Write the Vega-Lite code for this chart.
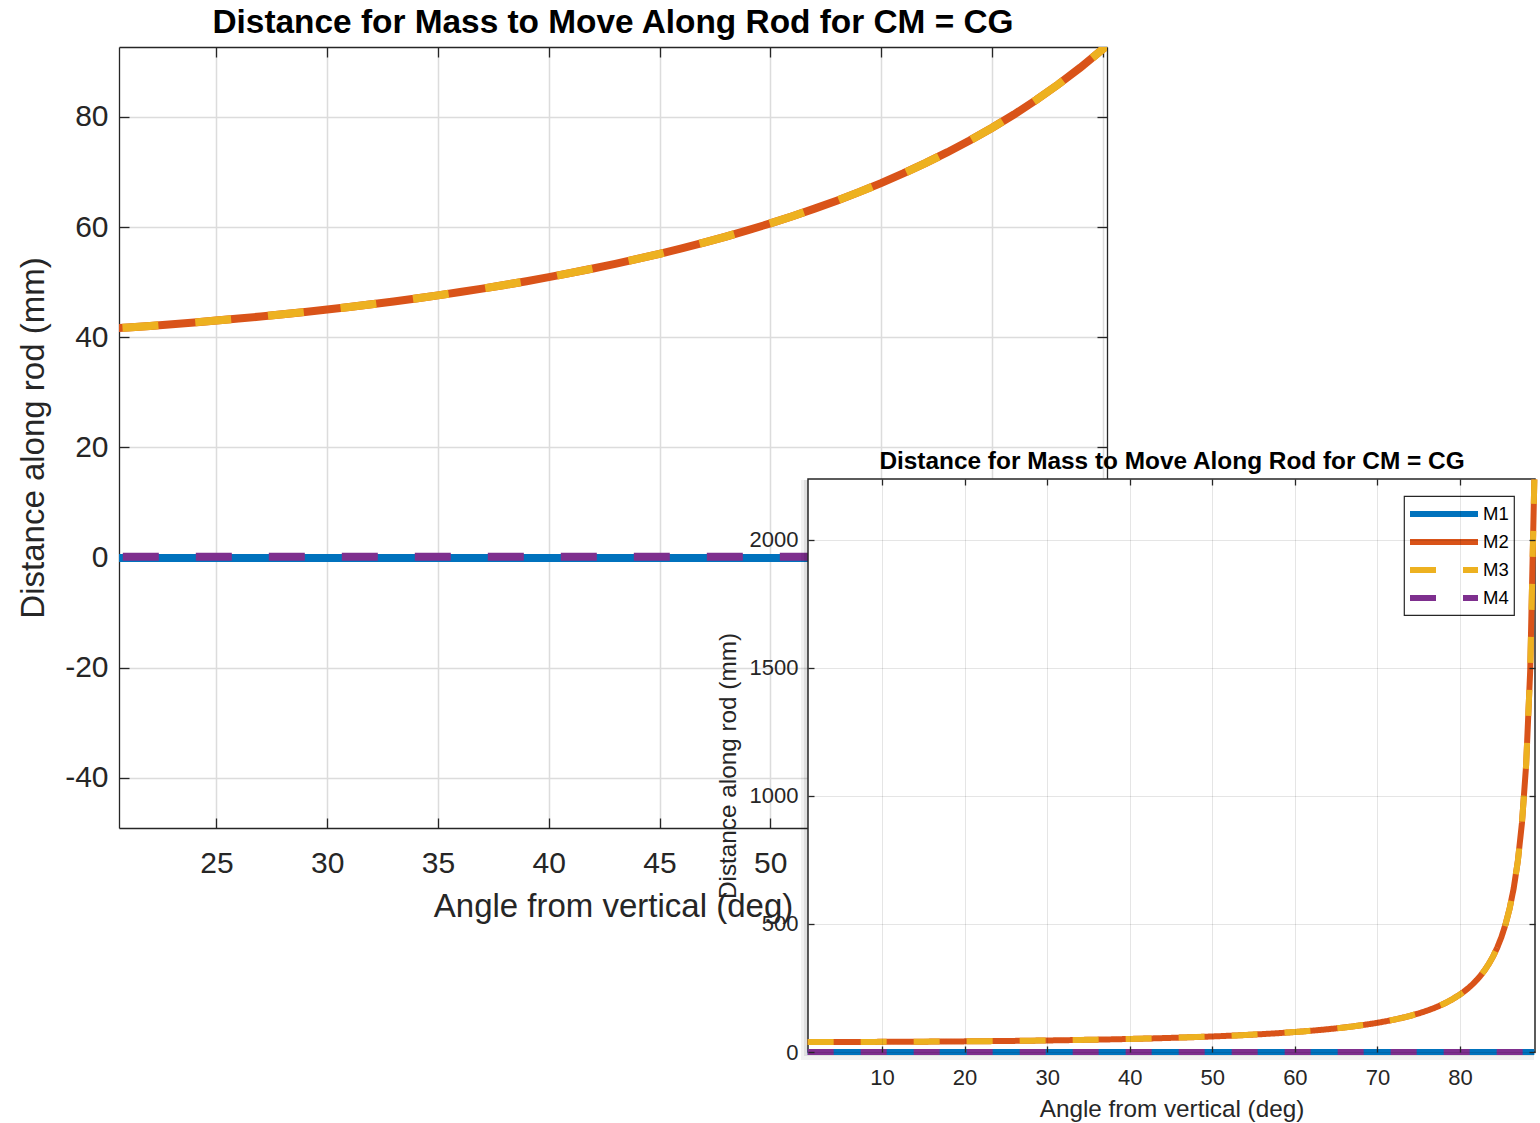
{
  "$schema": "https://vega.github.io/schema/vega-lite/v6.json",
  "width": 988,
  "height": 781,
  "autosize": "none",
  "padding": {"left": 119, "top": 47, "right": 433, "bottom": 295},
  "background": "white",
  "title": {"text": "Distance for Mass to Move Along Rod for CM = CG", "fontSize": 33.4, "fontWeight": "bold", "color": "#000000", "frame": "group", "anchor": "middle", "offset": 6, "font": "Liberation Sans"},
  "datasets": {
    "curves": [
      {"a":1,"M1":-0.1,"M2":39.01,"M3":39.01,"M4":0.15},
      {"a":2,"M1":-0.1,"M2":39.02,"M3":39.02,"M4":0.15},
      {"a":3,"M1":-0.1,"M2":39.05,"M3":39.05,"M4":0.15},
      {"a":4,"M1":-0.1,"M2":39.10,"M3":39.10,"M4":0.15},
      {"a":5,"M1":-0.1,"M2":39.15,"M3":39.15,"M4":0.15},
      {"a":6,"M1":-0.1,"M2":39.22,"M3":39.22,"M4":0.15},
      {"a":7,"M1":-0.1,"M2":39.29,"M3":39.29,"M4":0.15},
      {"a":8,"M1":-0.1,"M2":39.38,"M3":39.38,"M4":0.15},
      {"a":9,"M1":-0.1,"M2":39.49,"M3":39.49,"M4":0.15},
      {"a":10,"M1":-0.1,"M2":39.60,"M3":39.60,"M4":0.15},
      {"a":11,"M1":-0.1,"M2":39.73,"M3":39.73,"M4":0.15},
      {"a":12,"M1":-0.1,"M2":39.87,"M3":39.87,"M4":0.15},
      {"a":13,"M1":-0.1,"M2":40.03,"M3":40.03,"M4":0.15},
      {"a":14,"M1":-0.1,"M2":40.19,"M3":40.19,"M4":0.15},
      {"a":15,"M1":-0.1,"M2":40.38,"M3":40.38,"M4":0.15},
      {"a":16,"M1":-0.1,"M2":40.57,"M3":40.57,"M4":0.15},
      {"a":17,"M1":-0.1,"M2":40.78,"M3":40.78,"M4":0.15},
      {"a":18,"M1":-0.1,"M2":41.01,"M3":41.01,"M4":0.15},
      {"a":19,"M1":-0.1,"M2":41.25,"M3":41.25,"M4":0.15},
      {"a":20,"M1":-0.1,"M2":41.50,"M3":41.50,"M4":0.15},
      {"a":21,"M1":-0.1,"M2":41.78,"M3":41.78,"M4":0.15},
      {"a":22,"M1":-0.1,"M2":42.06,"M3":42.06,"M4":0.15},
      {"a":23,"M1":-0.1,"M2":42.37,"M3":42.37,"M4":0.15},
      {"a":24,"M1":-0.1,"M2":42.69,"M3":42.69,"M4":0.15},
      {"a":25,"M1":-0.1,"M2":43.03,"M3":43.03,"M4":0.15},
      {"a":26,"M1":-0.1,"M2":43.39,"M3":43.39,"M4":0.15},
      {"a":27,"M1":-0.1,"M2":43.77,"M3":43.77,"M4":0.15},
      {"a":28,"M1":-0.1,"M2":44.17,"M3":44.17,"M4":0.15},
      {"a":29,"M1":-0.1,"M2":44.59,"M3":44.59,"M4":0.15},
      {"a":30,"M1":-0.1,"M2":45.03,"M3":45.03,"M4":0.15},
      {"a":31,"M1":-0.1,"M2":45.50,"M3":45.50,"M4":0.15},
      {"a":32,"M1":-0.1,"M2":45.99,"M3":45.99,"M4":0.15},
      {"a":33,"M1":-0.1,"M2":46.50,"M3":46.50,"M4":0.15},
      {"a":34,"M1":-0.1,"M2":47.04,"M3":47.04,"M4":0.15},
      {"a":35,"M1":-0.1,"M2":47.61,"M3":47.61,"M4":0.15},
      {"a":36,"M1":-0.1,"M2":48.21,"M3":48.21,"M4":0.15},
      {"a":37,"M1":-0.1,"M2":48.83,"M3":48.83,"M4":0.15},
      {"a":38,"M1":-0.1,"M2":49.49,"M3":49.49,"M4":0.15},
      {"a":39,"M1":-0.1,"M2":50.18,"M3":50.18,"M4":0.15},
      {"a":40,"M1":-0.1,"M2":50.91,"M3":50.91,"M4":0.15},
      {"a":41,"M1":-0.1,"M2":51.68,"M3":51.68,"M4":0.15},
      {"a":42,"M1":-0.1,"M2":52.48,"M3":52.48,"M4":0.15},
      {"a":43,"M1":-0.1,"M2":53.33,"M3":53.33,"M4":0.15},
      {"a":44,"M1":-0.1,"M2":54.22,"M3":54.22,"M4":0.15},
      {"a":45,"M1":-0.1,"M2":55.15,"M3":55.15,"M4":0.15},
      {"a":46,"M1":-0.1,"M2":56.14,"M3":56.14,"M4":0.15},
      {"a":47,"M1":-0.1,"M2":57.19,"M3":57.19,"M4":0.15},
      {"a":48,"M1":-0.1,"M2":58.29,"M3":58.29,"M4":0.15},
      {"a":49,"M1":-0.1,"M2":59.45,"M3":59.45,"M4":0.15},
      {"a":50,"M1":-0.1,"M2":60.67,"M3":60.67,"M4":0.15},
      {"a":51,"M1":-0.1,"M2":61.97,"M3":61.97,"M4":0.15},
      {"a":52,"M1":-0.1,"M2":63.35,"M3":63.35,"M4":0.15},
      {"a":53,"M1":-0.1,"M2":64.80,"M3":64.80,"M4":0.15},
      {"a":54,"M1":-0.1,"M2":66.35,"M3":66.35,"M4":0.15},
      {"a":55,"M1":-0.1,"M2":67.99,"M3":67.99,"M4":0.15},
      {"a":56,"M1":-0.1,"M2":69.74,"M3":69.74,"M4":0.15},
      {"a":57,"M1":-0.1,"M2":71.61,"M3":71.61,"M4":0.15},
      {"a":58,"M1":-0.1,"M2":73.60,"M3":73.60,"M4":0.15},
      {"a":59,"M1":-0.1,"M2":75.72,"M3":75.72,"M4":0.15},
      {"a":60,"M1":-0.1,"M2":78.00,"M3":78.00,"M4":0.15},
      {"a":61,"M1":-0.1,"M2":80.44,"M3":80.44,"M4":0.15},
      {"a":62,"M1":-0.1,"M2":83.07,"M3":83.07,"M4":0.15},
      {"a":63,"M1":-0.1,"M2":85.91,"M3":85.91,"M4":0.15},
      {"a":64,"M1":-0.1,"M2":88.97,"M3":88.97,"M4":0.15},
      {"a":65,"M1":-0.1,"M2":92.28,"M3":92.28,"M4":0.15},
      {"a":66,"M1":-0.1,"M2":95.89,"M3":95.89,"M4":0.15},
      {"a":67,"M1":-0.1,"M2":99.81,"M3":99.81,"M4":0.15},
      {"a":68,"M1":-0.1,"M2":104.11,"M3":104.11,"M4":0.15},
      {"a":69,"M1":-0.1,"M2":108.83,"M3":108.83,"M4":0.15},
      {"a":70,"M1":-0.1,"M2":114.03,"M3":114.03,"M4":0.15},
      {"a":71,"M1":-0.1,"M2":119.79,"M3":119.79,"M4":0.15},
      {"a":72,"M1":-0.1,"M2":126.21,"M3":126.21,"M4":0.15},
      {"a":73,"M1":-0.1,"M2":133.39,"M3":133.39,"M4":0.15},
      {"a":74,"M1":-0.1,"M2":141.49,"M3":141.49,"M4":0.15},
      {"a":75,"M1":-0.1,"M2":150.68,"M3":150.68,"M4":0.15},
      {"a":76,"M1":-0.1,"M2":161.21,"M3":161.21,"M4":0.15},
      {"a":77,"M1":-0.1,"M2":173.37,"M3":173.37,"M4":0.15},
      {"a":78,"M1":-0.1,"M2":187.58,"M3":187.58,"M4":0.15},
      {"a":79,"M1":-0.1,"M2":204.39,"M3":204.39,"M4":0.15},
      {"a":80,"M1":-0.1,"M2":224.59,"M3":224.59,"M4":0.15},
      {"a":80.5,"M1":-0.1,"M2":236.29,"M3":236.29,"M4":0.15},
      {"a":81,"M1":-0.1,"M2":249.31,"M3":249.31,"M4":0.15},
      {"a":81.5,"M1":-0.1,"M2":263.85,"M3":263.85,"M4":0.15},
      {"a":82,"M1":-0.1,"M2":280.23,"M3":280.23,"M4":0.15},
      {"a":82.5,"M1":-0.1,"M2":298.79,"M3":298.79,"M4":0.15},
      {"a":83,"M1":-0.1,"M2":320.01,"M3":320.01,"M4":0.15},
      {"a":83.5,"M1":-0.1,"M2":344.52,"M3":344.52,"M4":0.15},
      {"a":84,"M1":-0.1,"M2":373.10,"M3":373.10,"M4":0.15},
      {"a":84.5,"M1":-0.1,"M2":406.89,"M3":406.89,"M4":0.15},
      {"a":85,"M1":-0.1,"M2":447.47,"M3":447.47,"M4":0.15},
      {"a":85.5,"M1":-0.1,"M2":497.07,"M3":497.07,"M4":0.15},
      {"a":86,"M1":-0.1,"M2":559.07,"M3":559.07,"M4":0.15},
      {"a":86.5,"M1":-0.1,"M2":638.82,"M3":638.82,"M4":0.15},
      {"a":87,"M1":-0.1,"M2":745.13,"M3":745.13,"M4":0.15},
      {"a":87.5,"M1":-0.1,"M2":894.08,"M3":894.08,"M4":0.15},
      {"a":88,"M1":-0.1,"M2":1117.5,"M3":1117.5,"M4":0.15},
      {"a":88.5,"M1":-0.1,"M2":1489.7,"M3":1489.7,"M4":0.15},
      {"a":89,"M1":-0.1,"M2":2234.9,"M3":2234.9,"M4":0.15}
    ]
  },
  "resolve": {
    "scale": {"x": "independent", "y": "independent"},
    "axis": {"x": "independent", "y": "independent"}
  },
  "layer": [
    {
      "data": {"name": "curves"},
      "transform": [
        {"fold": ["M1", "M2", "M3", "M4"], "as": ["series", "value"]},
        {"filter": {"field": "series", "oneOf": ["M1", "M2"]}}
      ],
      "mark": {"type": "line", "strokeWidth": 8, "clip": true},
      "encoding": {
        "x": {"field": "a", "type": "quantitative",
          "scale": {"domain": [20.6, 65.2], "nice": false, "zero": false},
          "axis": {"orient": "bottom", "values": [25, 30, 35, 40, 45, 50, 55, 60, 65], "format": "d", "grid": true, "gridWidth": 1.5, "gridColor": "#dcdcdc", "domainWidth": 1.3, "tickSize": -10, "tickWidth": 1.3, "labelFontSize": 30, "labelPadding": 30, "title": "Angle from vertical (deg)", "titleFontSize": 33, "titlePadding": 12}},
        "y": {"field": "value", "type": "quantitative",
          "scale": {"domain": [-49.1, 92.7], "nice": false, "zero": false},
          "axis": {"orient": "left", "values": [-40, -20, 0, 20, 40, 60, 80], "format": "d", "labelExpr": "replace(datum.label, '\u2212', '-')", "grid": true, "gridWidth": 1.5, "gridColor": "#dcdcdc", "domainWidth": 1.3, "tickSize": -10, "tickWidth": 1.3, "labelFontSize": 30, "labelPadding": 21, "title": "Distance along rod (mm)", "titleFontSize": 33, "titlePadding": 14}},
        "color": {"field": "series", "type": "nominal",
          "scale": {"domain": ["M1", "M2", "M3", "M4"], "range": ["#0072BD", "#D95319", "#EDB120", "#7E2F8E"]},
          "legend": {"title": null, "orient": "none", "legendX": 1285, "legendY": 449}}
      }
    },
    {
      "data": {"name": "curves"},
      "transform": [
        {"fold": ["M1", "M2", "M3", "M4"], "as": ["series", "value"]},
        {"filter": {"field": "series", "oneOf": ["M3", "M4"]}}
      ],
      "mark": {"type": "line", "strokeWidth": 8, "strokeDash": [36, 37], "clip": true},
      "encoding": {
        "x": {"field": "a", "type": "quantitative",
          "scale": {"domain": [20.6, 65.2], "nice": false, "zero": false},
          "axis": {"orient": "top", "values": [25, 30, 35, 40, 45, 50, 55, 60, 65], "labels": false, "grid": false, "domainWidth": 1.3, "tickSize": -10, "tickWidth": 1.3, "title": null}},
        "y": {"field": "value", "type": "quantitative",
          "scale": {"domain": [-49.1, 92.7], "nice": false, "zero": false},
          "axis": {"orient": "right", "values": [-40, -20, 0, 20, 40, 60, 80], "labels": false, "grid": false, "domainWidth": 1.3, "tickSize": -10, "tickWidth": 1.3, "title": null}},
        "color": {"field": "series", "type": "nominal",
          "scale": {"domain": ["M1", "M2", "M3", "M4"], "range": ["#0072BD", "#D95319", "#EDB120", "#7E2F8E"]},
          "legend": {"title": null, "orient": "none", "legendX": 1285, "legendY": 449}}
      }
    },
    {
      "data": {"values": [{}]},
      "mark": {"type": "rect", "fill": "#000000", "opacity": 0.05, "xOffset": -7, "x2Offset": -1, "yOffset": 8, "y2Offset": 1},
      "encoding": {
        "x": {"datum": 1.04, "type": "quantitative",
          "scale": {"domain": [1.04, 89.08], "range": [689, 1416], "nice": false, "zero": false}, "axis": null},
        "x2": {"datum": 89.08},
        "y": {"datum": 0, "type": "quantitative",
          "scale": {"domain": [0, 2237], "range": [1005, 432], "nice": false, "zero": false}, "axis": null},
        "y2": {"datum": 2237}
      }
    },
    {
      "data": {"values": [{}]},
      "mark": {"type": "rect", "fill": "#000000", "opacity": 0.08, "xOffset": -4, "x2Offset": -1, "yOffset": 4, "y2Offset": 1},
      "encoding": {
        "x": {"datum": 1.04, "type": "quantitative",
          "scale": {"domain": [1.04, 89.08], "range": [689, 1416], "nice": false, "zero": false}, "axis": null},
        "x2": {"datum": 89.08},
        "y": {"datum": 0, "type": "quantitative",
          "scale": {"domain": [0, 2237], "range": [1005, 432], "nice": false, "zero": false}, "axis": null},
        "y2": {"datum": 2237}
      }
    },
    {
      "data": {"values": [{}]},
      "mark": {"type": "rect", "fill": "white", "stroke": "#262626", "strokeWidth": 1.5},
      "encoding": {
        "x": {"datum": 1.04, "type": "quantitative",
          "scale": {"domain": [1.04, 89.08], "range": [689, 1416], "nice": false, "zero": false},
          "axis": {"orient": "top", "offset": -432, "values": [10, 20, 30, 40, 50, 60, 70, 80], "labels": false, "domain": false, "grid": true, "gridColor": "#000000", "gridOpacity": 0.1, "gridWidth": 1, "tickSize": -6, "tickWidth": 1.3, "zindex": 1, "title": "Distance for Mass to Move Along Rod for CM = CG", "titleFontSize": 24.4, "titleFontWeight": "bold", "titleColor": "#000000", "titlePadding": 5}},
        "x2": {"datum": 89.08},
        "y": {"datum": 0, "type": "quantitative",
          "scale": {"domain": [0, 2237], "range": [1005, 432], "nice": false, "zero": false},
          "axis": {"orient": "right", "offset": 428, "values": [0, 500, 1000, 1500, 2000], "labels": false, "domain": false, "grid": false, "tickSize": -6, "tickWidth": 1.3, "zindex": 1, "title": null}},
        "y2": {"datum": 2237}
      }
    },
    {
      "data": {"name": "curves"},
      "transform": [
        {"fold": ["M1", "M2", "M3", "M4"], "as": ["series", "value"]}
      ],
      "mark": {"type": "line", "strokeWidth": 6},
      "encoding": {
        "x": {"field": "a", "type": "quantitative",
          "scale": {"domain": [1.04, 89.08], "range": [689, 1416], "nice": false, "zero": false},
          "axis": {"orient": "bottom", "offset": 224, "values": [10, 20, 30, 40, 50, 60, 70, 80], "format": "d", "domain": false, "grid": false, "tickSize": -6, "tickWidth": 1.3, "labelFontSize": 22, "labelPadding": 21, "zindex": 1, "title": "Angle from vertical (deg)", "titleFontSize": 24.3, "titlePadding": 9}},
        "y": {"field": "value", "type": "quantitative",
          "scale": {"domain": [0, 2237], "range": [1005, 432], "nice": false, "zero": false},
          "axis": {"orient": "left", "offset": -689, "values": [0, 500, 1000, 1500, 2000], "format": "d", "domain": false, "grid": true, "gridColor": "#000000", "gridOpacity": 0.1, "gridWidth": 1, "tickSize": -6, "tickWidth": 1.3, "labelFontSize": 22, "labelPadding": 16, "zindex": 1, "title": "Distance along rod (mm)", "titleFontSize": 24.3, "titlePadding": 9}},
        "color": {"field": "series", "type": "nominal",
          "scale": {"domain": ["M1", "M2", "M3", "M4"], "range": ["#0072BD", "#D95319", "#EDB120", "#7E2F8E"]},
          "legend": {"title": null, "orient": "none", "legendX": 1285, "legendY": 449}},
        "strokeDash": {"field": "series", "type": "nominal",
          "scale": {"domain": ["M1", "M2", "M3", "M4"], "range": [[1, 0], [1, 0], [26, 27], [26, 27]]},
          "legend": {"title": null, "orient": "none", "legendX": 1285, "legendY": 449}}
      }
    }
  ],
  "config": {
    "view": {"stroke": null},
    "font": "Liberation Sans",
    "axis": {"labelFont": "Liberation Sans", "titleFont": "Liberation Sans", "labelColor": "#262626", "titleColor": "#262626", "titleFontWeight": "normal", "domainColor": "#262626", "tickColor": "#262626", "labelOverlap": false, "labelFlush": false},
    "legend": {"direction": "vertical", "fillColor": "white", "strokeColor": "#262626", "strokeWidth": 1.2, "padding": 5, "symbolType": "M-3.4,0H3.4", "symbolSize": 400, "symbolStrokeWidth": 6, "symbolOffset": 22, "labelFont": "Liberation Sans", "labelFontSize": 18.5, "labelColor": "#000000", "labelOffset": 26, "rowPadding": 3}
  }
}
